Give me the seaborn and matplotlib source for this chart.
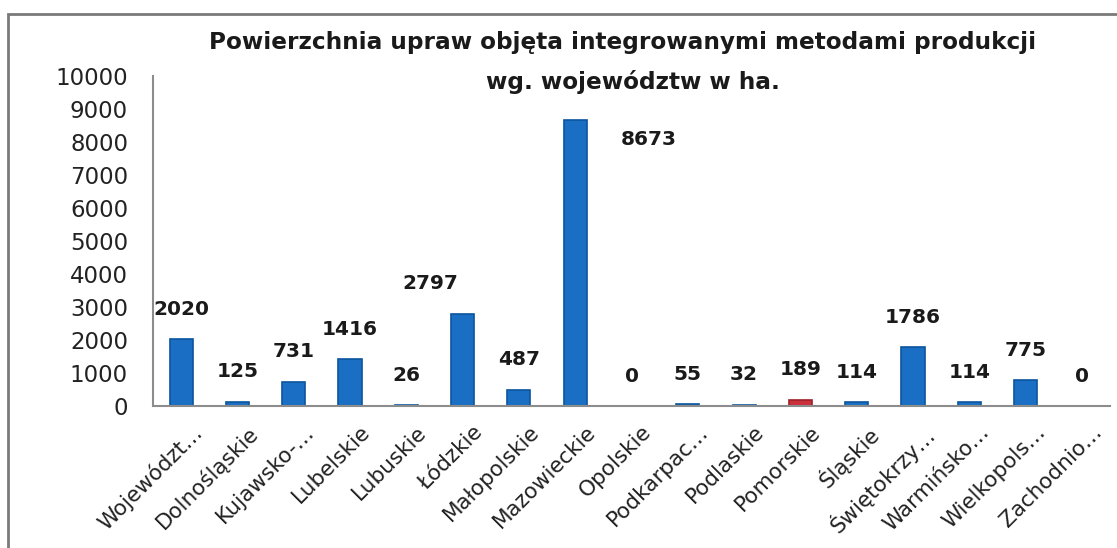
import matplotlib
matplotlib.use("Agg")
import matplotlib.pyplot as plt
import seaborn as sns
import pandas as pd
from matplotlib.patches import Rectangle
from matplotlib.transforms import ScaledTranslation

# ---- data ----
categories = ["Wojew\u00f3dzt\u2026", "Dolno\u015bl\u0105skie", "Kujawsko-\u2026", "Lubelskie",
              "Lubuskie", "\u0141\u00f3dzkie", "Ma\u0142opolskie", "Mazowieckie", "Opolskie",
              "Podkarpac\u2026", "Podlaskie", "Pomorskie", "\u015al\u0105skie",
              "\u015awi\u0119tokrzy\u2026", "Warmi\u0144sko\u2026", "Wielkopols\u2026", "Zachodnio\u2026"]
values = [2020, 125, 731, 1416, 26, 2797, 487, 8673, 0, 55, 32, 189, 114, 1786, 114, 775, 0]
highlight = ["Pomorskie"]
y_ticks = list(range(0, 10001, 1000))
title_lines = ["Powierzchnia upraw obj\u0119ta integrowanymi metodami produkcji",
               "wg. wojew\u00f3dztw w ha."]

# label offsets in pixels (dx, dy) relative to top-centre of bar
label_offsets = [(0, 30), (0, 30), (0, 30), (0, 30), (0, 30), (-32, 30), (0, 30), (74, -20),
                 (0, 30), (0, 30), (0, 30), (0, 30), (0, 30), (0, 30), (0, 30), (0, 30), (0, 30)]

df = pd.DataFrame({"cat": categories, "val": values})

sns.set_style("white")
plt.rcParams["font.family"] = ["DejaVu Sans"]

fig = plt.figure(figsize=(11.17, 5.48), dpi=100)
ax = fig.add_axes([153 / 1117, 1 - 406 / 548, (1110 - 153) / 1117, (406 - 76) / 548])

palette = {c: ("#C9303C" if c in highlight else "#1A6FC4") for c in categories}
sns.barplot(data=df, x="cat", y="val", hue="cat", palette=palette, legend=False,
            width=0.41, ax=ax, saturation=1, edgecolor="#0B559E", linewidth=1.2)
for p, c in zip(ax.patches, categories):
    if c in highlight:
        p.set_edgecolor("#A02028")

ax.set_ylim(0, 10000)
ax.set_xlim(-0.5, len(categories) - 0.5)
ax.set_yticks(y_ticks)
ax.set_yticklabels([str(t) for t in y_ticks], fontsize=16.5, color="#222222")
ax.set_xlabel("")
ax.set_ylabel("")

# x tick marks between categories
ax.set_xticks([i - 0.5 for i in range(len(categories) + 1)])
ax.set_xticklabels([])
ax.tick_params(axis="x", which="major", direction="out", length=6, width=1.2, color="#8C8C8C")
ax.tick_params(axis="y", which="major", direction="out", length=5, width=1.2, color="#8C8C8C", pad=13)
ax.tick_params(axis="x", which="minor", length=0)
ax.set_xticks(range(len(categories)), minor=True)
ax.set_xticklabels(categories, minor=True, rotation=45, ha="right", rotation_mode="anchor",
                   fontsize=15.5, color="#222222")
for lab in ax.get_xticklabels(minor=True):
    lab.set_transform(lab.get_transform() + ScaledTranslation(10 / 100, -11 / 100, fig.dpi_scale_trans))

for s in ["top", "right"]:
    ax.spines[s].set_visible(False)
for s in ["left", "bottom"]:
    ax.spines[s].set_color("#8C8C8C")
    ax.spines[s].set_linewidth(1.5)

# data labels
for i, (v, (dx, dy)) in enumerate(zip(values, label_offsets)):
    ax.annotate(str(v), (i, v), xytext=(dx * 0.72, dy * 0.72), textcoords="offset points",
                ha="center", va="center", fontsize=14.5, fontweight="bold", color="#1A1A1A")

# title
fig.text(0.557, 1 - 43 / 548, title_lines[0], ha="center", va="center",
         fontsize=16.7, fontweight="bold", color="#1A1A1A")
fig.text(0.567, 1 - 82 / 548, title_lines[1], ha="center", va="center",
         fontsize=16.7, fontweight="bold", color="#1A1A1A")

# chart frame
fig.patches.append(Rectangle((8 / 1117, -0.2), 1.2, 1 - 14 / 548 + 0.2, transform=fig.transFigure,
                             fill=False, edgecolor="#7A7A7A", linewidth=2, clip_on=False))

fig.savefig("out.png", dpi=100)
